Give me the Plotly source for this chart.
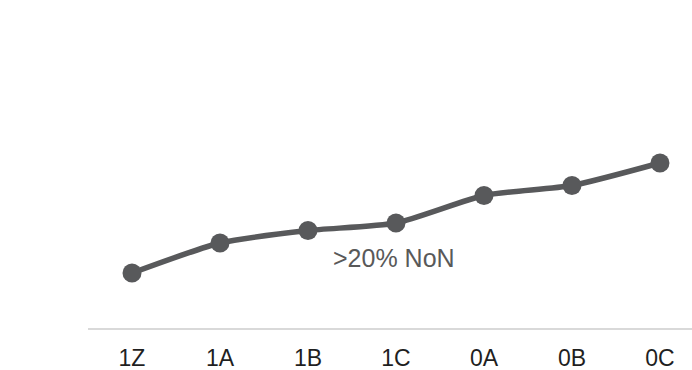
import plotly.graph_objects as go

# Quarter labels along the x axis
quarters = ["1Z", "1A", "1B", "1C", "0A", "0B", "0C"]
# Share values per quarter
share = [22, 34, 39, 42, 53, 57, 66]
note_text = ">20% NoN"

line_color = "#58595b"
font_family = "Liberation Sans, Arial, sans-serif"

fig = go.Figure()
fig.add_trace(go.Scatter(
    x=quarters,
    y=share,
    mode="lines+markers",
    line=dict(color=line_color, width=5.5, shape="spline", smoothing=0.6),
    marker=dict(color=line_color, size=19),
    hoverinfo="skip",
    showlegend=False,
))

fig.add_annotation(
    x=2.98, y=28, xref="x", yref="y",
    text=note_text, showarrow=False,
    font=dict(family=font_family, size=25, color="#595959"),
    xanchor="center", yanchor="middle",
)

fig.update_layout(
    width=692, height=370,
    margin=dict(l=88, r=0, t=0, b=42),
    paper_bgcolor="white",
    plot_bgcolor="white",
    xaxis=dict(
        type="category",
        range=[-0.5, 6.364],
        showgrid=False,
        showline=True,
        linecolor="#d9d9d9",
        linewidth=2,
        ticks="",
        ticklabelstandoff=8,
        tickfont=dict(family=font_family, size=23, color="#1f1f1f"),
        zeroline=False,
        fixedrange=True,
    ),
    yaxis=dict(
        range=[0, 131.2],
        showgrid=False,
        showline=False,
        showticklabels=False,
        zeroline=False,
        fixedrange=True,
    ),
)

fig.write_html("out.html")
